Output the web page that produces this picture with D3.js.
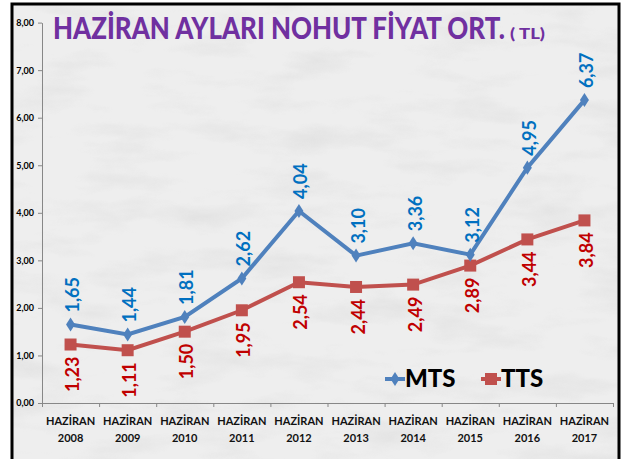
<!DOCTYPE html>
<html>
<head>
<meta charset="utf-8">
<script src="https://cdn.jsdelivr.net/npm/d3@7"></script>
<style>
  body { margin: 0; background: #fff; }
  text { font-family: Lato, "Open Sans", sans-serif; font-weight: bold; }
</style>
</head>
<body>
<div id="chart"></div>
<script>
// data
const years = ["2008", "2009", "2010", "2011", "2012", "2013", "2014", "2015", "2016", "2017"];
const monthLabel = "HAZİRAN";
const mts = [1.65, 1.44, 1.81, 2.62, 4.04, 3.10, 3.36, 3.12, 4.95, 6.37];
const tts = [1.23, 1.11, 1.50, 1.95, 2.54, 2.44, 2.49, 2.89, 3.44, 3.84];
const yTicks = [0, 1, 2, 3, 4, 5, 6, 7, 8];
const seriesNames = ["MTS", "TTS"];

const width = 629;
const height = 459;

let svg = d3.select('#chart')
    .append('svg')
    .attr('width', width)
    .attr('height', height);

// marble-ish background texture
const defs = svg.append('defs');
const filter = defs.append('filter').attr('id', 'marble')
    .attr('x', 0).attr('y', 0).attr('width', '100%').attr('height', '100%');
filter.append('feTurbulence')
    .attr('type', 'fractalNoise')
    .attr('baseFrequency', '0.012 0.04')
    .attr('numOctaves', 4)
    .attr('seed', 3)
    .attr('result', 'noise');
filter.append('feColorMatrix')
    .attr('in', 'noise')
    .attr('type', 'matrix')
    .attr('values', '0 0 0 0 0.55  0 0 0 0 0.55  0 0 0 0 0.55  -1.6 0 0 0 0.85')
    .attr('result', 'veins');
filter.append('feComposite').attr('in', 'veins').attr('in2', 'SourceGraphic').attr('operator', 'in');

svg.append('rect')
    .attr('x', 12).attr('y', 4)
    .attr('width', 607).attr('height', 470)
    .attr('fill', '#eeeeee');
svg.append('rect')
    .attr('x', 12).attr('y', 4)
    .attr('width', 607).attr('height', 470)
    .attr('fill', '#fff')
    .attr('opacity', 0.35)
    .attr('filter', 'url(#marble)');
// frame
svg.append('rect')
    .attr('x', 12).attr('y', 4)
    .attr('width', 607).attr('height', 470)
    .attr('fill', 'none')
    .attr('stroke', '#000')
    .attr('stroke-width', 3);

// scales
const x = d3.scaleBand().domain(years).range([42, 613]);
const y = d3.scaleLinear().domain([0, 8]).range([403, 22.6]);
const xEdge = d3.scaleLinear().domain([0, years.length]).range([42, 613]);

// y axis
const yAxis = d3.axisLeft(y)
    .tickValues(yTicks)
    .tickSize(4)
    .tickSizeOuter(0)
    .tickFormat(d => d3.format('.2f')(d).replace('.', ','));
const gy = svg.append('g')
    .attr('transform', 'translate(42,0)')
    .call(yAxis);
gy.selectAll('text').attr('font-size', 9).attr('fill', '#000').attr('x', -8)
    .style('font-family', 'Lato, sans-serif').style('font-weight', 'bold');

// x axis: ticks at category edges
const gxTicks = svg.append('g')
    .attr('transform', 'translate(0,403)')
    .call(d3.axisBottom(xEdge).ticks(years.length).tickSize(4).tickSizeOuter(0).tickFormat(''));
[gy, gxTicks].forEach(g => {
    g.selectAll('path, line').attr('stroke', '#878787');
});

// x labels
const gxLabels = svg.append('g');
years.forEach(yr => {
    const t = gxLabels.append('text')
        .attr('x', x(yr) + x.bandwidth() / 2)
        .attr('text-anchor', 'middle')
        .attr('font-size', 11)
        .attr('fill', '#111');
    t.append('tspan').attr('x', x(yr) + x.bandwidth() / 2).attr('y', 424.5).text(monthLabel);
    t.append('tspan').attr('x', x(yr) + x.bandwidth() / 2).attr('y', 442).text(yr);
});

const cx = d => x(d) + x.bandwidth() / 2;

// lines
const line = d3.line()
    .x(function (d, i) { return cx(years[i]); })
    .y(function (d) { return y(d); });

svg.append('path').datum(tts)
    .attr('fill', 'none')
    .style('stroke', '#C0504D')
    .style('stroke-width', 4)
    .attr('d', line);
svg.append('path').datum(mts)
    .attr('fill', 'none')
    .style('stroke', '#4F81BD')
    .style('stroke-width', 4)
    .attr('d', line);

// markers
svg.append('g').selectAll('rect')
    .data(tts).join('rect')
    .attr('x', (d, i) => cx(years[i]) - 6)
    .attr('y', d => y(d) - 6)
    .attr('width', 12).attr('height', 12)
    .attr('fill', '#C0504D');
svg.append('g').selectAll('path')
    .data(mts).join('path')
    .attr('d', d3.symbol(d3.symbolDiamond, 70))
    .attr('transform', (d, i) => `translate(${cx(years[i])},${y(d)}) scale(1,0.9)`)
    .attr('fill', '#4F81BD');

// data labels (rotated)
const fmt = d => d3.format('.2f')(d).replace('.', ',');
svg.append('g').selectAll('text')
    .data(mts).join('text')
    .attr('transform', (d, i) => `translate(${cx(years[i]) + 8.5},${y(d) - 12}) rotate(-90)`)
    .attr('text-anchor', 'start')
    .attr('font-size', 18)
    .attr('fill', '#0070C0')
    .text(fmt);
svg.append('g').selectAll('text')
    .data(tts).join('text')
    .attr('transform', (d, i) => `translate(${cx(years[i]) + 8.5},${y(d) + 12}) rotate(-90)`)
    .attr('text-anchor', 'end')
    .attr('font-size', 18)
    .attr('fill', '#C00000')
    .text(fmt);

// title (squeezed horizontally to mimic the narrow original face)
function squeezedText(txt, tx, ty, size, targetW) {
    const t = svg.append('text')
        .attr('fill', '#7030A0')
        .attr('font-size', size)
        .style('font-weight', 900)
        .text(txt);
    const w = t.node().getComputedTextLength();
    t.attr('transform', `translate(${tx},${ty}) scale(${targetW / w},1)`);
    return t;
}
squeezedText('HAZİRAN AYLARI NOHUT FİYAT ORT.', 53, 39, 31, 452);
squeezedText('( TL)', 510, 39, 15, 35);

// legend
const legend = svg.append('g');
const legendX = [385, 481];
const legendColors = ['#4F81BD', '#C0504D'];
seriesNames.forEach((name, i) => {
    const lx = legendX[i];
    legend.append('line')
        .attr('x1', lx).attr('x2', lx + 20)
        .attr('y1', 379).attr('y2', 379)
        .attr('stroke', legendColors[i]).attr('stroke-width', 4);
    if (i === 0) {
        legend.append('path')
            .attr('d', d3.symbol(d3.symbolDiamond, 70))
            .attr('transform', `translate(${lx + 10},379) scale(1,0.9)`)
            .attr('fill', legendColors[i]);
    } else {
        legend.append('rect')
            .attr('x', lx + 4).attr('y', 373)
            .attr('width', 12).attr('height', 12)
            .attr('fill', legendColors[i]);
    }
    legend.append('text')
        .attr('x', lx + 20).attr('y', 387)
        .attr('font-size', 24)
        .style('font-weight', 900)
        .attr('fill', '#000')
        .text(name);
});
</script>
</body>
</html>
